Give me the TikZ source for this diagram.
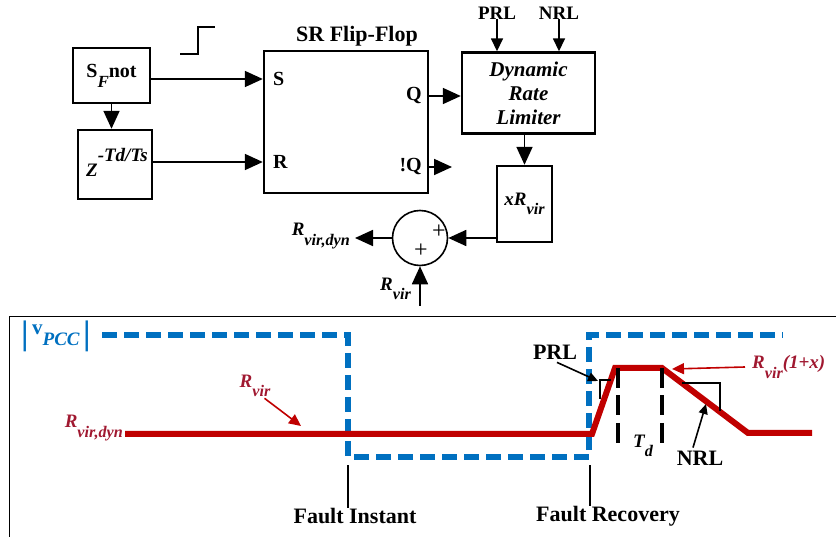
\documentclass[tikz,border=0pt]{standalone}
\usepackage{fontspec}
\setmainfont{Liberation Serif}
\usetikzlibrary{arrows.meta}
\definecolor{pccblue}{RGB}{0,112,192}
\definecolor{rline}{RGB}{192,0,0}
\definecolor{rtext}{RGB}{160,24,48}
\newcommand{\lowsub}[1]{\raisebox{-1.1ex}{\scalebox{0.85}{#1}}}

\begin{document}
\begin{tikzpicture}[x=1pt,y=-1pt,
  blk/.style={draw,line width=2.4pt,inner sep=0pt},
  arr/.style={line width=1.8pt,-{Triangle[length=18pt,width=16pt]}},
  sarr/.style={line width=1.6pt,-{Triangle[length=13pt,width=12pt]}},
  lbl/.style={font=\fontsize{20}{22}\selectfont\bfseries,inner sep=0pt},
  ilbl/.style={font=\fontsize{19}{24}\selectfont\bfseries\itshape,inner sep=0pt},
  big/.style={font=\fontsize{22}{24}\selectfont\bfseries,inner sep=0pt},
  pcc/.style={pccblue,line width=6pt,dash pattern=on 15pt off 7pt},
  rv/.style={rline,line width=6pt},
  rarr/.style={rline,line width=1.6pt,-{Triangle[length=12pt,width=11pt]}},
  tick/.style={line width=1.6pt},
]
\useasboundingbox (0,0) rectangle (836,537);

% control block
\node[blk,lbl,minimum width=77pt,minimum height=55pt] (sf) at (111.5,75.5) {S\lowsub{\itshape F}not};
\node[blk,minimum width=74pt,minimum height=69pt] (zd) at (115,164.5) {};
\node[ilbl,anchor=base west] (zexp) at (86,177) {Z\raisebox{15pt}{-Td/Ts}};
\node[blk,minimum width=164pt,minimum height=142pt] (sr) at (346,122) {};
\node[big,anchor=base] (srt) at (357,42) {SR Flip-Flop};
\node[lbl,anchor=west] (sin) at (273,79) {S};
\node[lbl,anchor=west] (rin) at (273,162) {R};
\node[lbl,anchor=east] (qo) at (422,96) {Q};
\node[lbl,anchor=east] (nqo) at (422,167) {!Q};
\coordinate (nqend) at (452,167);
\draw[line width=1.8pt] (180,54) -- (198,54) -- (198,27) -- (215,27);

\node[blk,ilbl,font=\fontsize{21}{24}\selectfont\bfseries\itshape,align=center,minimum width=133pt,minimum height=81pt] (drl) at (528.5,93) {Dynamic\\Rate\\Limiter};
\node[lbl,font=\fontsize{19}{22}\selectfont\bfseries] (prl) at (497,13) {PRL};
\node[lbl,font=\fontsize{19}{22}\selectfont\bfseries] (nrl) at (559,13) {NRL};
\node[blk,ilbl,minimum width=55pt,minimum height=76pt] (xr) at (524.5,204) {xR\lowsub{vir}};
\node[draw,circle,line width=1.6pt,minimum size=55pt,inner sep=0pt] (sum) at (420,238) {};
\node[font=\fontsize{24}{24}\selectfont,inner sep=0pt] (p1) at (439,232) {+};
\node[font=\fontsize{24}{24}\selectfont,inner sep=0pt] (p2) at (421,251) {+};
\node[ilbl,anchor=east] (rdyn) at (350,236) {R\lowsub{vir,dyn}};
\node[ilbl,anchor=east] (rv) at (411,289) {R\lowsub{vir}};
\coordinate (rvin) at (420,306);
\coordinate (rdo) at (355,238);

\draw[arr] (sf.east |- sin) -- (sr.west |- sin);
\draw[arr] (sf.south) -- (zd.north -| sf.south);
\draw[arr] (zd.east |- rin) -- (sr.west |- rin);
\draw[arr] (sr.east |- qo) -- (drl.west |- qo);
\draw[arr] (sr.east |- nqo) -- (nqend);
\draw[sarr] (prl.south) -- (prl.south |- drl.north);
\draw[sarr] (nrl.south) -- (nrl.south |- drl.north);
\draw[arr] (xr.north |- drl.south) -- (xr.north);
\draw[arr] (xr.west |- sum) -- (sum.east);
\draw[arr] (sum.west) -- (rdo);
\draw[arr] (rvin) -- (sum.south);

% time plot
\draw[line width=1pt] (9,537) -- (9,317) -- (836,317);
\node[pccblue,font=\fontsize{21}{22}\selectfont\bfseries,inner sep=0pt,anchor=west] (vpcc) at (21,336)
  {\raisebox{-5pt}{\fontsize{34}{34}\selectfont|}\,\raisebox{5pt}{v}\raisebox{-6pt}{\fontsize{19}{19}\selectfont\itshape PCC}\,\raisebox{-5pt}{\fontsize{34}{34}\selectfont|}};
\draw[pcc] (102,335) -- (348,335) -- (348,457) -- (589,457) -- (589,335) -- (783,335);
\draw[rv] (125,434) -- (592,434) -- (615,368) -- (662,368) -- (748,433) -- (812,433);
\draw[line width=4.5pt,dash pattern=on 20pt off 7.5pt] (618,368) -- (618,443);
\draw[line width=4.5pt,dash pattern=on 20pt off 7.5pt] (662,368) -- (662,443);
\draw[line width=1.2pt] (611,380) -- (600,380) -- (600,399);
\draw[line width=1.2pt] (682,383) -- (720,383) -- (720,411);

\node[ilbl,text=rtext,anchor=east] (rdl) at (123,428) {R\lowsub{vir,dyn}};
\node[ilbl,text=rtext] (rvl) at (255,386) {R\lowsub{vir}};
\coordinate (rvtip) at (301,426);
\draw[rarr] ([xshift=-6pt,yshift=-1pt]rvl.south east) -- (rvtip);
\node[ilbl,text=rtext,anchor=west] (rx) at (752,367) {R\lowsub{vir}(1+x)};
\coordinate (rxtip) at (672,369);
\draw[rarr] ([xshift=-7pt]rx.west) -- (rxtip);

\node[big] (prlb) at (555,352) {PRL};
\coordinate (prltip) at (598,381);
\draw[tick,-{Triangle[length=10pt,width=9pt]}] ([xshift=2pt,yshift=-3pt]prlb.south) -- (prltip);
\node[big] (nrlb) at (700,458) {NRL};
\coordinate (nrltip) at (706,404);
\draw[tick,-{Triangle[length=10pt,width=9pt]}] ([xshift=-7pt,yshift=3pt]nrlb.north) -- (nrltip);
\node[ilbl] (td) at (643,446) {T\lowsub{d}};

\node[big,anchor=base] (fi) at (355,523) {Fault Instant};
\node[big,anchor=base] (fr) at (608,521) {Fault Recovery};
\coordinate (fit) at (348,465);
\coordinate (frt) at (590,465);
\draw[tick] (fit) -- (fit |- fi.north);
\draw[tick] (frt) -- (frt |- fr.north);
\end{tikzpicture}
\end{document}
